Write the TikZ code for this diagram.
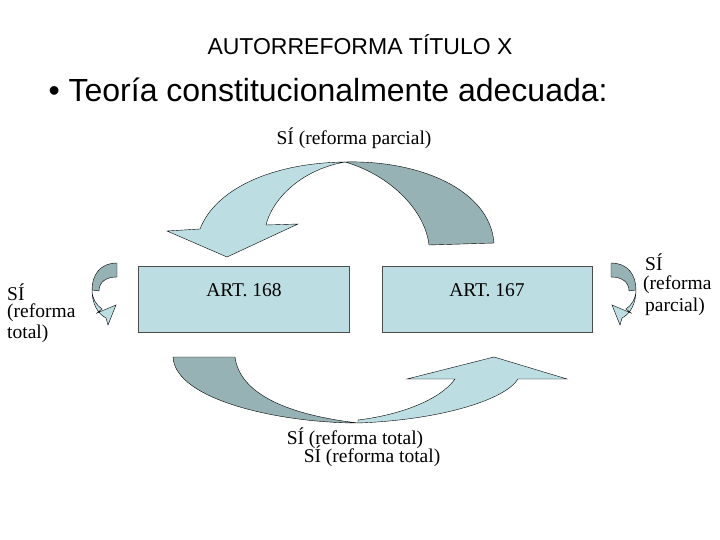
\documentclass[tikz,border=0pt]{standalone}
\usepackage{fontspec}
\setmainfont{Liberation Serif}
\newfontfamily\arialfont{Liberation Sans}
\definecolor{lightcyan}{RGB}{188,222,226}
\definecolor{darkcyan}{RGB}{150,178,180}
\tikzset{artbox/.style={draw=black!70,fill=lightcyan,line width=0.6pt},
  lightpart/.style={draw=black,fill=lightcyan,line width=0.4pt},
  darkpart/.style={draw=black,fill=darkcyan,line width=0.4pt},
  txt/.style={font=\fontsize{19.5}{22}\selectfont,inner sep=0pt}}
\begin{document}
\begin{tikzpicture}[x=1pt,y=-1pt]
    \useasboundingbox (0,0) rectangle (720,540);
    \node [font=\arialfont\fontsize{23}{26}\selectfont] (title) at (360,45) {AUTORREFORMA TÍTULO X};
    \node [font=\arialfont\fontsize{32}{36}\selectfont, anchor=west] (bullet) at (45,90) {\textbullet\ Teoría constitucionalmente adecuada:};

    % boxes
    \draw [artbox] (138,266) rectangle (349,332);
    \draw [artbox] (382,266) rectangle (592,332);
    \node [txt] (art168) at (244,290) {ART. 168};
    \node [txt] (art167) at (487,290) {ART. 167};

    % top arrow
    \draw [darkpart] (494,243) .. controls (490,190) and (420,160) .. (345,162)
        .. controls (390,175) and (425,210) .. (429,245) -- cycle;
    \draw [lightpart] (200,229) .. controls (215,190) and (270,163) .. (345,162)
        .. controls (300,170) and (272,200) .. (266,225) -- (298,224) -- (227,257) -- (167,231) -- cycle;

    % bottom arrow
    \draw [darkpart] (173,357) .. controls (175,400) and (280,423) .. (358,423)
        .. controls (290,415) and (240,395) .. (235,357) -- cycle;
    \draw [lightpart] (358,423) .. controls (440,420) and (505,400) .. (518,379) -- (567,379)
        -- (494,357) -- (407,379) -- (455,379) .. controls (440,400) and (400,415) .. (358,420) -- cycle;

    % side arrows
    \foreach \sx/\dx in {1/0,-1/728}
        {
        \begin{scope}[xshift=\dx,xscale=\sx]
        \draw [darkpart] (117,263) .. controls (100,263) and (92,275) .. (92,290)
            -- (99,291) .. controls (99,282) and (106,277) .. (117,277) -- cycle;
        \draw [lightpart] (92,290) .. controls (92,298) and (96,305) .. (102,309) -- (97,313)
            -- (116,305) -- (108,325) -- (106,318) .. controls (98,314) and (92,304) .. (92,290) -- cycle;
        \end{scope}
        }

    % labels
    \node [txt] (toplabel) at (354,138) {SÍ (reforma parcial)};
    \node [txt, anchor=west] (leftsi) at (7,292) {SÍ};
    \node [txt, anchor=west] (leftref) at (7,313) {(reforma};
    \node [txt, anchor=west] (lefttot) at (7,334) {total)};
    \node [txt, anchor=west] (rightsi) at (645,262) {SÍ};
    \node [txt, anchor=west] (rightref) at (643,285) {(reforma};
    \node [txt, anchor=west] (rightpar) at (645,307) {parcial)};
    \node [txt] (botlabel1) at (355,438) {SÍ (reforma total)};
    \node [txt] (botlabel2) at (372,456) {SÍ (reforma total)};
\end{tikzpicture}
\end{document}
